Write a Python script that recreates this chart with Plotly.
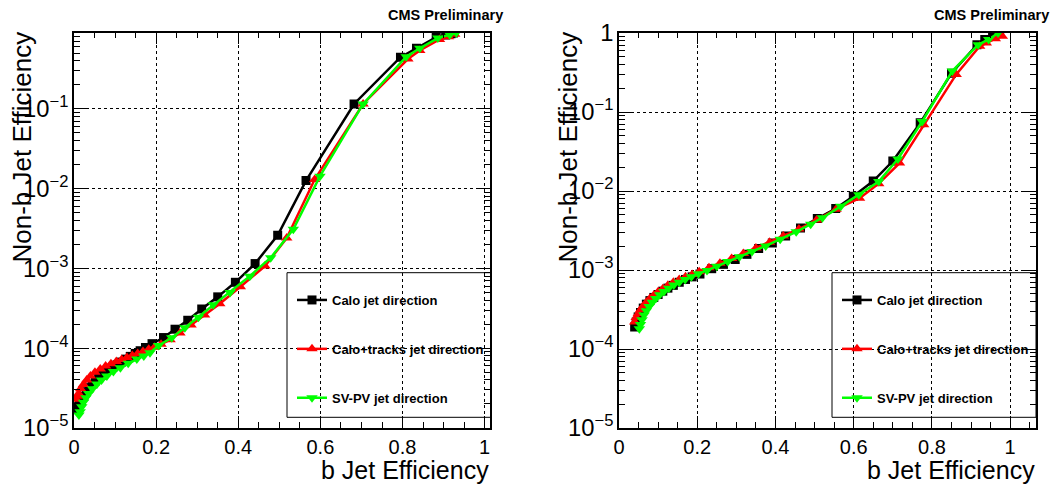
import plotly.graph_objects as go

# ---------------- data ----------------
# Left panel
calo_l_x = [0.004, 0.006, 0.009, 0.013, 0.018, 0.024, 0.030, 0.037, 0.044, 0.052, 0.060, 0.068, 0.077,
            0.086, 0.095, 0.105, 0.115, 0.126, 0.137, 0.149, 0.161, 0.174, 0.190, 0.218, 0.246, 0.277,
            0.311, 0.350, 0.393, 0.441, 0.496, 0.565, 0.682, 0.795, 0.834, 0.882, 0.905, 0.918, 0.924]
calo_l_y = [1.7e-5, 1.75e-5, 1.85e-5, 2.0e-5, 2.2e-5, 2.5e-5, 2.85e-5, 3.2e-5, 3.55e-5, 3.9e-5, 4.25e-5,
            4.6e-5, 5.0e-5, 5.4e-5, 5.8e-5, 6.2e-5, 6.7e-5, 7.3e-5, 7.9e-5, 8.6e-5, 9.3e-5, 1.02e-4,
            1.14e-4, 1.36e-4, 1.73e-4, 2.24e-4, 3.1e-4, 4.4e-4, 6.7e-4, 1.15e-3, 2.6e-3, 1.26e-2, 0.115,
            0.443, 0.574, 0.79, 0.84, 0.87, 0.89]

trk_l_x = [0.005, 0.008, 0.011, 0.016, 0.023, 0.031, 0.040, 0.051, 0.064, 0.077, 0.090, 0.103, 0.116,
           0.129, 0.142, 0.155, 0.168, 0.182, 0.196, 0.212, 0.234, 0.258, 0.285, 0.318, 0.355, 0.405,
           0.465, 0.518, 0.586, 0.704, 0.813, 0.842, 0.890, 0.912, 0.927]
trk_l_y = [2.3e-5, 2.5e-5, 2.7e-5, 3.1e-5, 3.5e-5, 4.0e-5, 4.5e-5, 5.0e-5, 5.5e-5, 6.0e-5, 6.4e-5, 6.8e-5,
           7.2e-5, 7.65e-5, 8.1e-5, 8.6e-5, 9.1e-5, 9.7e-5, 1.03e-4, 1.12e-4, 1.28e-4, 1.55e-4, 1.95e-4,
           2.6e-4, 3.6e-4, 5.9e-4, 1.07e-3, 2.4e-3, 1.3e-2, 0.115, 0.42, 0.54, 0.74, 0.80, 0.86]

svpv_l_x = [0.012, 0.015, 0.019, 0.023, 0.029, 0.036, 0.045, 0.056, 0.067, 0.080, 0.096, 0.113, 0.132,
            0.153, 0.170, 0.185, 0.206, 0.238, 0.270, 0.303, 0.339, 0.380, 0.428, 0.479, 0.534, 0.599,
            0.704, 0.809, 0.842, 0.886, 0.915, 0.931]
svpv_l_y = [1.45e-5, 1.6e-5, 1.85e-5, 2.1e-5, 2.4e-5, 2.7e-5, 3.1e-5, 3.55e-5, 4.0e-5, 4.5e-5, 5.1e-5,
            5.7e-5, 6.5e-5, 7.3e-5, 8.0e-5, 8.8e-5, 1.08e-4, 1.35e-4, 1.8e-4, 2.45e-4, 3.5e-4, 5.0e-4,
            8.0e-4, 1.36e-3, 3.1e-3, 1.43e-2, 0.115, 0.45, 0.574, 0.77, 0.85, 0.90]

# Right panel
calo_r_x = [0.040, 0.044, 0.049, 0.055, 0.062, 0.070, 0.079, 0.089, 0.100, 0.112, 0.125, 0.139, 0.154,
            0.170, 0.187, 0.207, 0.237, 0.267, 0.297, 0.327, 0.357, 0.392, 0.426, 0.464, 0.507, 0.554,
            0.599, 0.650, 0.700, 0.770, 0.850, 0.915, 0.935, 0.955, 0.973]
calo_r_y = [1.9e-4, 2.2e-4, 2.55e-4, 2.9e-4, 3.3e-4, 3.7e-4, 4.1e-4, 4.5e-4, 4.9e-4, 5.4e-4, 5.9e-4,
            6.4e-4, 7.0e-4, 7.6e-4, 8.2e-4, 8.9e-4, 1.04e-3, 1.18e-3, 1.36e-3, 1.58e-3, 1.87e-3, 2.2e-3,
            2.7e-3, 3.4e-3, 4.5e-3, 6.0e-3, 8.6e-3, 1.34e-2, 2.4e-2, 7.3e-2, 0.31, 0.71, 0.83, 0.92, 1.0]

trk_r_x = [0.040, 0.044, 0.049, 0.055, 0.062, 0.070, 0.079, 0.089, 0.100, 0.112, 0.125, 0.139, 0.154,
           0.170, 0.187, 0.205, 0.230, 0.258, 0.288, 0.318, 0.350, 0.385, 0.420, 0.460, 0.505, 0.555,
           0.615, 0.664, 0.717, 0.779, 0.862, 0.922, 0.939, 0.962, 0.980]
trk_r_y = [2.2e-4, 2.5e-4, 2.8e-4, 3.15e-4, 3.5e-4, 3.9e-4, 4.35e-4, 4.8e-4, 5.3e-4, 5.8e-4, 6.4e-4,
           7.0e-4, 7.6e-4, 8.2e-4, 8.8e-4, 9.5e-4, 1.07e-3, 1.22e-3, 1.4e-3, 1.62e-3, 1.9e-3, 2.25e-3,
           2.7e-3, 3.3e-3, 4.3e-3, 5.9e-3, 8.1e-3, 1.24e-2, 2.26e-2, 6.9e-2, 0.30, 0.68, 0.75, 0.85, 0.91]

svpv_r_x = [0.052, 0.055, 0.059, 0.064, 0.070, 0.077, 0.085, 0.094, 0.104, 0.115, 0.127, 0.140, 0.154,
            0.169, 0.185, 0.203, 0.225, 0.250, 0.278, 0.308, 0.340, 0.375, 0.412, 0.453, 0.490, 0.520,
            0.567, 0.613, 0.664, 0.713, 0.775, 0.852, 0.918, 0.945, 0.969]
svpv_r_y = [1.8e-4, 2.05e-4, 2.35e-4, 2.7e-4, 3.05e-4, 3.45e-4, 3.9e-4, 4.35e-4, 4.85e-4, 5.35e-4, 5.9e-4,
            6.45e-4, 7.0e-4, 7.6e-4, 8.2e-4, 9.0e-4, 9.9e-4, 1.12e-3, 1.28e-3, 1.47e-3, 1.72e-3, 2.02e-3,
            2.45e-3, 3.05e-3, 3.8e-3, 4.6e-3, 6.4e-3, 9.0e-3, 1.32e-2, 2.55e-2, 7.6e-2, 0.33, 0.71, 0.83, 1.0]

series_names = ["Calo jet direction", "Calo+tracks jet direction", "SV-PV jet direction"]
series_colors = ["#000000", "#ff0000", "#00ff00"]
series_symbols = ["square", "triangle-up", "triangle-down"]
series_sizes = [9, 10, 10]

x_title = "b Jet Efficiency"
y_title = "Non-b Jet Efficiency"
label_text = "CMS Preliminary"

# ---------------- figure ----------------
W, H = 1055, 485
FONT = "Liberation Sans, Arial, Helvetica, sans-serif"

fig = go.Figure()

panels = [
    ("x", "y", "legend", [(calo_l_x, calo_l_y), (trk_l_x, trk_l_y), (svpv_l_x, svpv_l_y)]),
    ("x2", "y2", "legend2", [(calo_r_x, calo_r_y), (trk_r_x, trk_r_y), (svpv_r_x, svpv_r_y)]),
]
for xa, ya, lg, data in panels:
    for i, (xs, ys) in enumerate(data):
        fig.add_trace(go.Scatter(
            x=xs, y=ys, mode="lines+markers", name=series_names[i],
            line=dict(color=series_colors[i], width=2.5),
            marker=dict(symbol=series_symbols[i], size=series_sizes[i], color=series_colors[i],
                        line=dict(width=0)),
            xaxis=xa, yaxis=ya, legend=lg, legendgroup=lg + str(i), showlegend=True,
        ))

def px_x(p):
    return p / W

def px_y(p):
    return 1 - p / H

ydom = [px_y(428), px_y(32.7)]
common_x = dict(
    tick0=0, dtick=0.2, ticks="inside", ticklen=12, tickwidth=1, tickcolor="black",
    minor=dict(ticks="inside", ticklen=6, dtick=0.05, tickcolor="black", showgrid=False),
    showline=True, linecolor="black", linewidth=1.5, mirror="allticks", automargin=False,
    showgrid=True, gridcolor="black", griddash="dot", gridwidth=1, zeroline=False,
    tickfont=dict(family=FONT, size=20, color="black"),
)
common_y = dict(
    type="log", dtick=1, ticks="inside", ticklen=12, tickwidth=1, tickcolor="black",
    minor=dict(ticks="inside", ticklen=6, tickcolor="black", showgrid=False),
    showline=True, linecolor="black", linewidth=1.5, mirror="allticks", automargin=False,
    showgrid=True, gridcolor="black", griddash="dot", gridwidth=1, zeroline=False,
    exponentformat="power",
    tickfont=dict(family=FONT, size=19, color="black"),
)

fig.update_layout(
    template="none",
    width=W, height=H, autosize=False,
    margin=dict(l=0, r=0, t=0, b=0, autoexpand=False),
    paper_bgcolor="white", plot_bgcolor="white",
    font=dict(family=FONT, color="black"),
    xaxis=dict(domain=[px_x(74), px_x(490)], range=[0, 1.013], anchor="y", **common_x),
    yaxis=dict(domain=ydom, range=[-5, -0.046], anchor="x", **common_y),
    xaxis2=dict(domain=[px_x(619), px_x(1036)], range=[0, 1.066], anchor="y2", **common_x),
    yaxis2=dict(domain=ydom, range=[-5, 0.005], anchor="x2", **common_y),
    legend=dict(x=px_x(292), y=px_y(285), xanchor="left", yanchor="top",
                bgcolor="rgba(0,0,0,0)", borderwidth=0, tracegroupgap=29,
                font=dict(family=FONT, size=13, color="black", weight="bold")),
    legend2=dict(x=px_x(837), y=px_y(285), xanchor="left", yanchor="top",
                 bgcolor="rgba(0,0,0,0)", borderwidth=0, tracegroupgap=29,
                 font=dict(family=FONT, size=13, color="black", weight="bold")),
)

# legend boxes
for x0, x1 in [(287, 491), (832, 1036)]:
    fig.add_shape(type="rect", xref="paper", yref="paper",
                  x0=px_x(x0), x1=px_x(x1), y0=px_y(417.3), y1=px_y(272.7),
                  line=dict(color="black", width=1), fillcolor="white", layer="between")

# titles and labels
for right_edge, ytitle_x in [(490, 21), (1036, 567)]:
    fig.add_annotation(text=x_title, xref="paper", yref="paper",
                       x=px_x(right_edge), y=0, xanchor="right", yanchor="bottom", borderpad=0,
                       showarrow=False, font=dict(family=FONT, size=25, color="black"))
    fig.add_annotation(text=y_title, xref="paper", yref="paper", textangle=-90,
                       x=px_x(ytitle_x), y=px_y(30), xanchor="center", yanchor="top",
                       showarrow=False, font=dict(family=FONT, size=26, color="black"))
    fig.add_annotation(text=label_text, xref="paper", yref="paper",
                       x=px_x(right_edge + 15), y=px_y(15), xanchor="right", yanchor="middle",
                       showarrow=False, font=dict(family=FONT, size=14.5, color="black", weight="bold"))

fig.write_html("out.html")
